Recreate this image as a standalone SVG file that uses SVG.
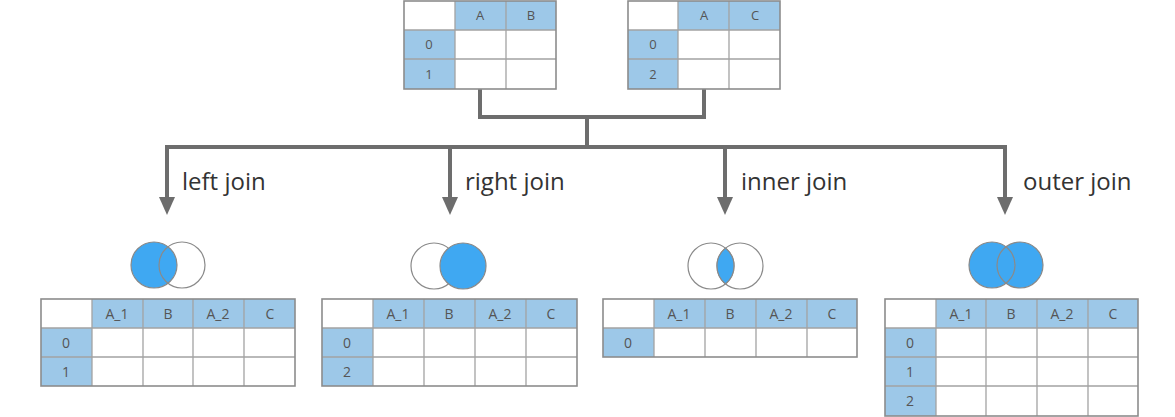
<svg xmlns="http://www.w3.org/2000/svg" width="1175" height="417" viewBox="0 0 1175 417">
<style>
.hd{fill:#9dc8e8}
.cell{fill:none;stroke:#a3a3a3;stroke-width:1.3}
.frame{fill:none;stroke:#8c8c8c;stroke-width:1.6}
.t{font-family:"Open Sans","Noto Sans","DejaVu Sans",sans-serif;font-size:13px;fill:#555555;text-anchor:middle}
.tb{font-size:14px}
.lbl{font-family:"Open Sans","Noto Sans","DejaVu Sans",sans-serif;font-size:24px;fill:#333333}
.conn{fill:none;stroke:#6d6d6d;stroke-width:4}
.vf{fill:#3fa8f2;stroke:#8a8a8a;stroke-width:1.2}
.vw{fill:#ffffff;stroke:#8a8a8a;stroke-width:1.2}
.vo{fill:none;stroke:#8a8a8a;stroke-width:1.2}
</style>
<defs>
<marker id="arr" markerUnits="userSpaceOnUse" markerWidth="18" markerHeight="16" viewBox="0 0 18 16" refX="8" refY="8" orient="auto">
<path d="M0,0 L18,8 L0,16 Z" fill="#6d6d6d"/>
</marker>
</defs>
<rect x="0" y="0" width="1175" height="417" fill="#ffffff"/>

<g id="connectors">
<path class="conn" d="M480,89 V117 H704 V89"/>
<path class="conn" d="M587,117 V147"/>
<path class="conn" d="M167,205 V147 H1005 V205" marker-end="url(#arr)"/>
<path class="conn" d="M167,150 V205" marker-end="url(#arr)"/>
<path class="conn" d="M450,147 V205" marker-end="url(#arr)"/>
<path class="conn" d="M725,147 V205" marker-end="url(#arr)"/>
</g>

<g id="table-left-input">
<rect class="hd" x="455" y="1" width="101" height="29"/>
<rect class="hd" x="404" y="30" width="51" height="59"/>
<path class="cell" d="M404,30 H556 M404,59 H556 M455,1 V89 M506,1 V89"/>
<rect class="frame" x="404" y="1" width="152" height="88"/>
<text class="t" x="480" y="20">A</text>
<text class="t" x="531" y="20">B</text>
<text class="t" x="429" y="49">0</text>
<text class="t" x="429" y="79">1</text>
</g>

<g id="table-right-input">
<rect class="hd" x="678" y="1" width="102" height="29"/>
<rect class="hd" x="628" y="30" width="50" height="59"/>
<path class="cell" d="M628,30 H780 M628,59 H780 M678,1 V89 M729,1 V89"/>
<rect class="frame" x="628" y="1" width="152" height="88"/>
<text class="t" x="704" y="20">A</text>
<text class="t" x="755" y="20">C</text>
<text class="t" x="653" y="49">0</text>
<text class="t" x="653" y="79">2</text>
</g>

<g id="label-left"><text class="lbl" x="182" y="190">left join</text></g>
<g id="label-right"><text class="lbl" x="465" y="190">right join</text></g>
<g id="label-inner"><text class="lbl" x="741" y="190">inner join</text></g>
<g id="label-outer"><text class="lbl" x="1023" y="190">outer join</text></g>

<g id="venn-left">
<circle class="vf" cx="154" cy="265" r="23"/>
<circle class="vo" cx="182" cy="265" r="23"/>
</g>
<g id="venn-right">
<circle class="vw" cx="434" cy="266" r="23"/>
<circle class="vf" cx="463" cy="266" r="23"/>
</g>
<g id="venn-inner">
<circle class="vo" cx="711" cy="266" r="23"/>
<circle class="vo" cx="740" cy="266" r="23"/>
<path d="M725.5,248.15 A23,23 0 0,1 725.5,283.85 A23,23 0 0,1 725.5,248.15 Z" fill="#3fa8f2" stroke="#8a8a8a" stroke-width="1.2"/>
</g>
<g id="venn-outer">
<circle fill="#3fa8f2" cx="992" cy="265" r="23"/>
<circle fill="#3fa8f2" cx="1020" cy="265" r="23"/>
<circle class="vo" cx="992" cy="265" r="23"/>
<circle class="vo" cx="1020" cy="265" r="23"/>
</g>

<g id="table-left-join">
<rect class="hd" x="92" y="299" width="203" height="29"/>
<rect class="hd" x="41" y="328" width="51" height="58"/>
<path class="cell" d="M41,328 H295 M41,357 H295 M92,299 V386 M143,299 V386 M193,299 V386 M244,299 V386"/>
<rect class="frame" x="41" y="299" width="254" height="87"/>
<text class="t tb" x="117" y="319">A_1</text>
<text class="t tb" x="168" y="319">B</text>
<text class="t tb" x="218" y="319">A_2</text>
<text class="t tb" x="270" y="319">C</text>
<text class="t tb" x="66" y="348">0</text>
<text class="t tb" x="66" y="377">1</text>
</g>

<g id="table-right-join">
<rect class="hd" x="373" y="299" width="204" height="29"/>
<rect class="hd" x="322" y="328" width="51" height="58"/>
<path class="cell" d="M322,328 H577 M322,357 H577 M373,299 V386 M424,299 V386 M475,299 V386 M526,299 V386"/>
<rect class="frame" x="322" y="299" width="255" height="87"/>
<text class="t tb" x="398" y="319">A_1</text>
<text class="t tb" x="449" y="319">B</text>
<text class="t tb" x="500" y="319">A_2</text>
<text class="t tb" x="551" y="319">C</text>
<text class="t tb" x="347" y="348">0</text>
<text class="t tb" x="347" y="377">2</text>
</g>

<g id="table-inner-join">
<rect class="hd" x="654" y="299" width="203" height="29"/>
<rect class="hd" x="603" y="328" width="51" height="29"/>
<path class="cell" d="M603,328 H857 M654,299 V357 M705,299 V357 M756,299 V357 M807,299 V357"/>
<rect class="frame" x="603" y="299" width="254" height="58"/>
<text class="t tb" x="679" y="319">A_1</text>
<text class="t tb" x="730" y="319">B</text>
<text class="t tb" x="781" y="319">A_2</text>
<text class="t tb" x="832" y="319">C</text>
<text class="t tb" x="628" y="348">0</text>
</g>

<g id="table-outer-join">
<rect class="hd" x="936" y="299" width="202" height="29"/>
<rect class="hd" x="885" y="328" width="51" height="88"/>
<path class="cell" d="M885,328 H1138 M885,357 H1138 M885,386 H1138 M936,299 V416 M986,299 V416 M1037,299 V416 M1088,299 V416"/>
<rect class="frame" x="885" y="299" width="253" height="117"/>
<text class="t tb" x="961" y="319">A_1</text>
<text class="t tb" x="1011" y="319">B</text>
<text class="t tb" x="1062" y="319">A_2</text>
<text class="t tb" x="1113" y="319">C</text>
<text class="t tb" x="910" y="348">0</text>
<text class="t tb" x="910" y="377">1</text>
<text class="t tb" x="910" y="406">2</text>
</g>
</svg>
